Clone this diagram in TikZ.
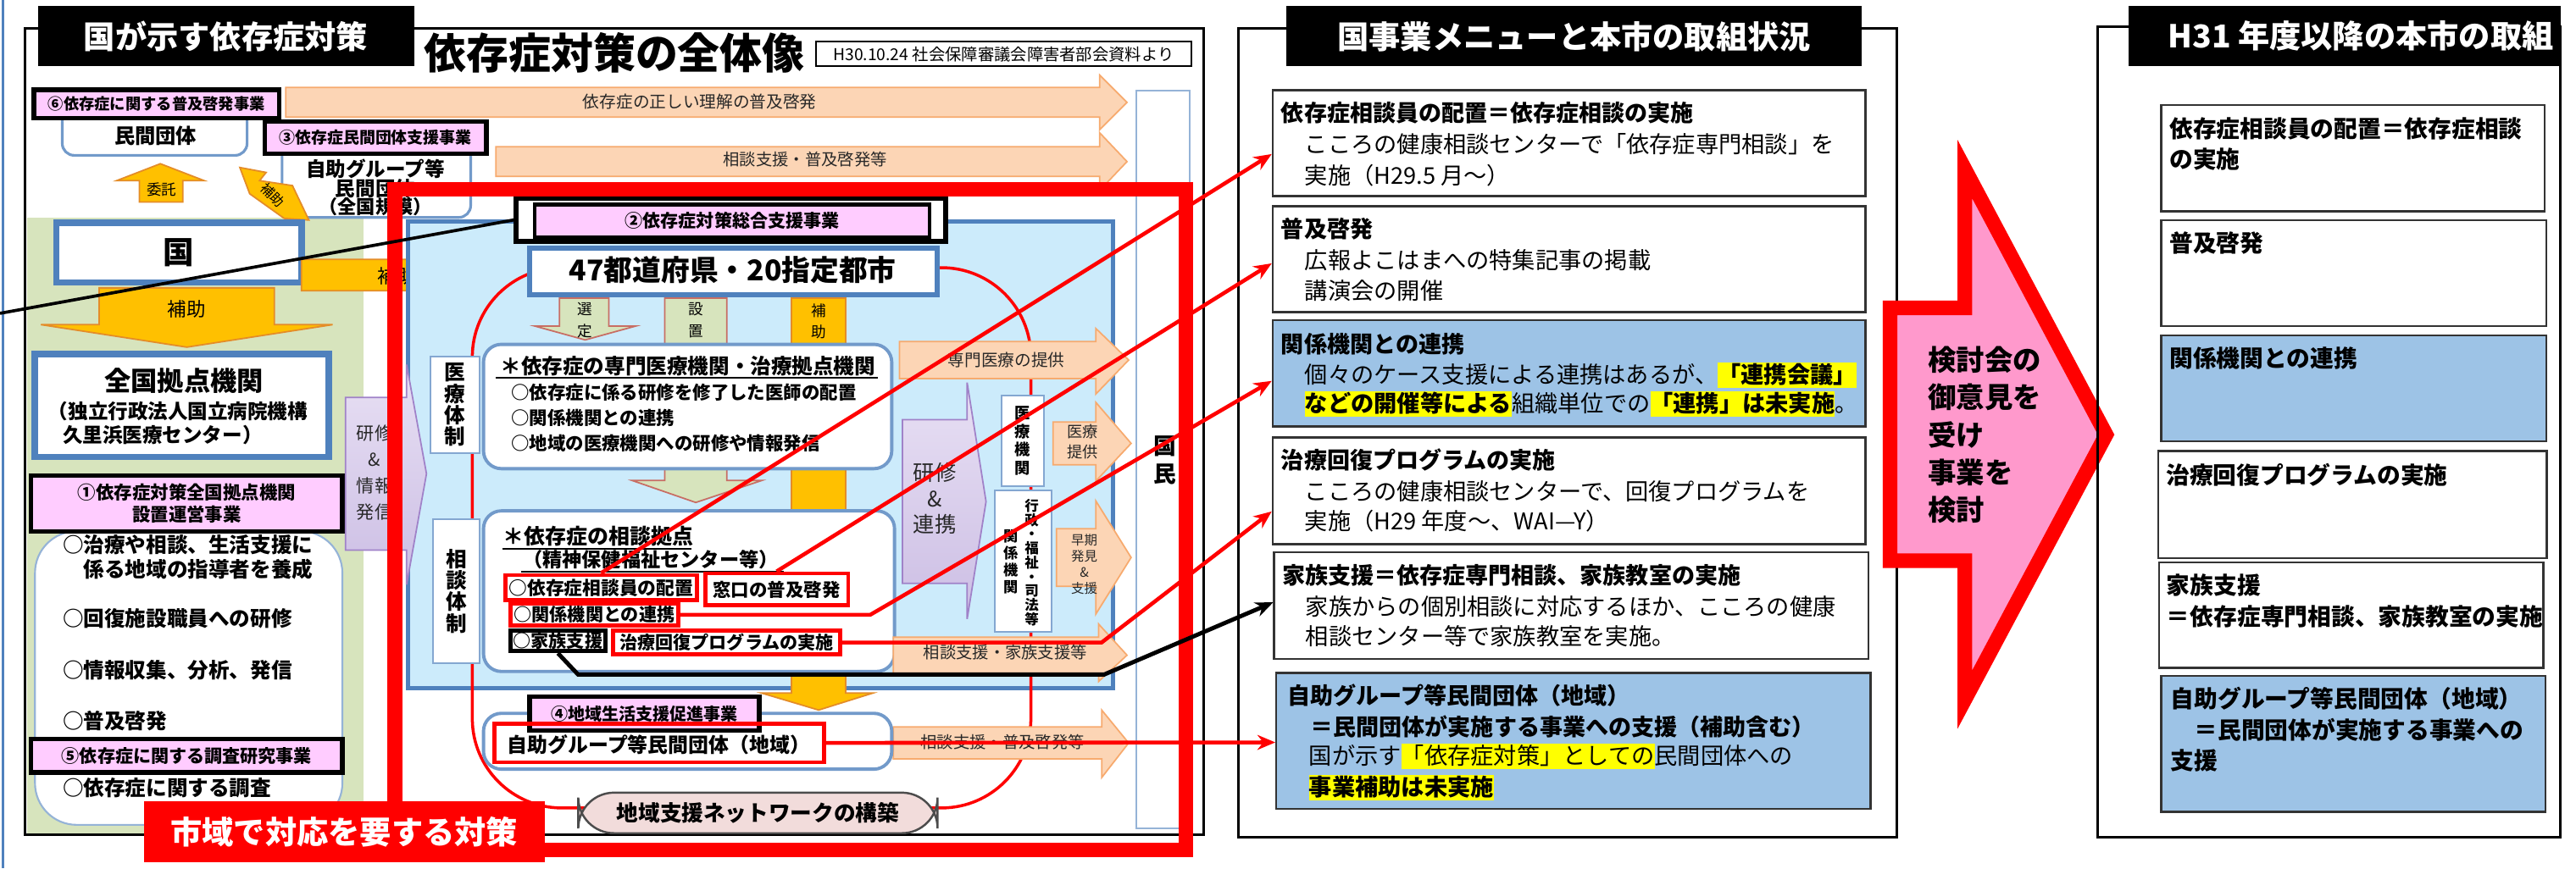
\documentclass[tikz,border=0pt]{standalone}
\usepackage{fontspec}
\setmainfont{Noto Sans CJK JP}
\usetikzlibrary{fit,calc,arrows.meta}
\definecolor{pinkc}{RGB}{255,204,255}
\definecolor{bluebd}{RGB}{79,129,189}
\definecolor{ltblue}{RGB}{204,235,251}
\definecolor{grn}{RGB}{215,228,189}
\definecolor{yel}{RGB}{255,192,0}
\definecolor{yelbd}{RGB}{228,140,40}
\definecolor{orfill}{RGB}{252,213,181}
\definecolor{orbd}{RGB}{247,170,110}
\definecolor{purtop}{RGB}{232,224,244}
\definecolor{purbot}{RGB}{204,190,228}
\definecolor{purbd}{RGB}{160,130,200}
\definecolor{boxblue}{RGB}{157,195,230}
\definecolor{pinkar}{RGB}{255,153,204}
\definecolor{netf}{RGB}{242,220,219}
\definecolor{hlyel}{RGB}{255,255,0}
\definecolor{setbd}{RGB}{200,110,100}
\definecolor{gtxt}{RGB}{40,40,40}
\newcommand\fz[1]{\pgfmathsetmacro\fzb{#1*1.2}\fontsize{#1pt}{\fzb pt}\selectfont}
\newcommand\fzz[2]{\fontsize{#1pt}{#2pt}\selectfont}
\newcommand\hl[1]{{\setlength{\fboxsep}{0pt}\colorbox{hlyel}{\rule[-0.2em]{0pt}{1.1em}#1}}}
\newcommand\boxn[4]{\node[#1, fit={(#2) (#3)}, inner sep=0pt] (#4) {};}
\newcommand\barr[8]{\path[#1] (#2,#5) -- (#3,#5) -- (#3,#7) -- (#4,{(#5+#6)/2}) -- (#3,#8) -- (#3,#6) -- (#2,#6) -- cycle;}
\begin{document}
\begin{tikzpicture}[x=0.0193878cm, y=-0.0193878cm,
  pinkb/.style={draw=black, line width=1.5pt, fill=pinkc},
  rbox/.style={draw=bluebd!80, line width=0.9pt, fill=white, rounded corners=4pt},
  thb/.style={draw=bluebd, line width=2.2pt, fill=white},
  redb/.style={draw=red, line width=1.4pt},
  mbox/.style={draw=black!80, line width=0.7pt, fill=white},
  mboxb/.style={draw=black!80, line width=0.7pt, fill=boxblue},
  tw/.style={inner sep=0pt, anchor=west, text=black},
  tc/.style={inner sep=0pt, align=center, text=black},
  orar/.style={fill=orfill, draw=orbd, line width=0.5pt},
  purar/.style={top color=purtop, bottom color=purbot, draw=purbd, line width=0.5pt},
  yelar/.style={fill=yel, draw=yelbd, line width=0.5pt},
  grnar/.style={fill=grn, draw=setbd, line width=0.5pt},
  redln/.style={draw=red, line width=1.3pt},
  arrtip/.style={-{Stealth[length=6pt,width=5pt]}},
]
\useasboundingbox (0,0) rectangle (1568,528.7);
\fill[white] (0,0) rectangle (1568,528.7);

% ===== LEFT PANEL =====
\draw[bluebd, line width=0.8pt] (1.9,0) -- (1.9,528.7);
\fill[grn] (16.6,132.4) rectangle (221.4,508.4);
\draw[black, line width=0.8pt] (15.4,17.2) rectangle (732.8,508.4);
\node[tc, font=\bfseries\fz{14.2}] (title) at (374,32) {依存症対策の全体像};
\boxn{draw=black, line width=0.6pt, fill=white}{496.6,25.4}{725.2,40.4}{ref}
\node[tc, font=\fz{5.5}] at (ref) {H30.10.24 社会保障審議会障害者部会資料より};
\boxn{fill=black}{23,3.8}{252,40.4}{hL}
\node[tc, text=white, font=\bfseries\fz{10.6}] at (hL) {国が示す依存症対策};

% top orange arrows
\barr{orar}{174}{669.3}{686}{53.3}{71.3}{45.6}{79.1}
\node[tc, text=gtxt, font=\fz{5.6}] at (425.9,61.9) {依存症の正しい理解の普及啓発};
\barr{orar}{301.9}{669.3}{686}{89.4}{107.4}{80.8}{116}
\node[tc, text=gtxt, font=\fz{5.5}] at (490.1,97.1) {相談支援・普及啓発等};

% private groups
\boxn{rbox}{37.9,64}{150.4,94.6}{mk}
\node[tc, font=\bfseries\fz{6.9}] at (94.7,82.5) {民間団体};
\boxn{pinkb}{20.6,54.7}{170,71.9}{b6}
\node[tc, font=\bfseries\fz{5.2}] at (b6) {⑥依存症に関する普及啓発事業};
\boxn{rbox}{171.7,85}{286.5,132.4}{jz}
\node[tc, font=\bfseries\fz{6.7}] at (228.5,102.8) {自助グループ等};
\node[tc, font=\bfseries\fz{6.7}] at (228.5,114.6) {民間団体};
\node[tc, font=\bfseries\fz{6.3}] at (228.5,126) {（全国規模）};
\boxn{pinkb}{161,74}{296,93.7}{b3}
\node[tc, font=\bfseries\fz{5.4}] at (b3) {③依存症民間団体支援事業};

% itaku arrow
\path[yelar] (84.8,123) -- (84.8,110) -- (71,110) -- (97.6,99.7) -- (124.3,110) -- (111.3,110) -- (111.3,123) -- cycle;
\node[tc, font=\fz{5}] at (98.3,115.5) {委託};
% diagonal hojo arrow
\path[yelar] (146,102) -- (162,105) -- (158,110) -- (178,113) -- (188,134) -- (173,133) -- (152,118) -- cycle;
\node[tc, font=\fz{4.5}, rotate=-45] at (166,119) {補助};

% kuni
\boxn{thb}{34.3,135.8}{183.5,172}{kuni}
\node[tc, font=\bfseries\fz{10.4}] at (kuni) {国};
\path[yelar] (60.4,175.3) -- (167,175.3) -- (167,197.7) -- (202.5,197.7) -- (113.7,211.4) -- (24.9,197.7) -- (60.4,197.7) -- cycle;
\node[tc, font=\fz{6.4}] at (113.7,188) {補助};
\barr{yelar}{183.5}{290}{309}{158}{177}{148.7}{186.5}
\node[tc, font=\fz{6.4}] at (241.5,168) {補助};

% national center
\boxn{thb}{21.3,215.5}{200,278.2}{zk}
\node[tc, font=\bfseries\fz{8.9}] at (112,232) {全国拠点機関};
\node[tw, font=\bfseries\fz{6.7}] at (29,250.5) {（独立行政法人国立病院機構};
\node[tw, font=\bfseries\fz{6.7}] at (37.9,264.9) {久里浜医療センター）};
\boxn{draw=bluebd!60, line width=0.6pt, fill=white, rounded corners=14pt}{21.3,323.5}{208.4,502.3}{lst}
\boxn{pinkb}{19,289.5}{208.4,323.5}{b1}
\node[tc, font=\bfseries\fzz{6.1}{7.4}] at (113.7,306.5) {①依存症対策全国拠点機関\\設置運営事業};
\node[tw, font=\bfseries\fz{7}] at (37.9,331.7) {○治療や相談、生活支援に};
\node[tw, font=\bfseries\fz{7}] at (37.9,346.8) {　係る地域の指導者を養成};
\node[tw, font=\bfseries\fz{7}] at (37.9,376.4) {○回復施設職員への研修};
\node[tw, font=\bfseries\fz{7}] at (37.9,408.2) {○情報収集、分析、発信};
\node[tw, font=\bfseries\fz{7}] at (37.9,439) {○普及啓発};
\boxn{pinkb}{19,449.9}{208.4,470.4}{b5}
\node[tc, font=\bfseries\fz{6}] at (b5) {⑤依存症に関する調査研究事業};
\node[tw, font=\bfseries\fz{7}] at (37.9,479.7) {○依存症に関する調査};

% ===== CENTRAL DIAGRAM =====
\boxn{draw=bluebd, line width=1.4pt, fill=ltblue}{248.3,135}{677.5,419.1}{blue}
\barr{purar}{210.3}{247.5}{259.6}{242}{335}{222}{356}
\node[tc, text=gtxt, font=\fzz{6}{8.8}] at (228,288) {研修\\\&\\情報\\発信};
\boxn{draw=bluebd!60, line width=0.6pt, fill=white}{691.6,55}{724,504.3}{kokumin}
\node[tc, font=\bfseries\fzz{7.6}{9.4}] at (709,280.2) {国\\民};
\draw[red, line width=1pt, rounded corners=30pt] (287.5,163) rectangle (627.5,492);

% vertical arrows from prefectures
\path[yelar] (481.8,181.5) -- (514.7,181.5) -- (514.7,422.1) -- (531.2,422.1) -- (498.3,432.4) -- (463.7,422.1) -- (481.8,422.1) -- cycle;
\node[tc, font=\fzz{5}{7.2}] at (498.3,195.5) {補\\助};
\path[grnar] (340.6,181.5) -- (370.6,181.5) -- (370.6,198.6) -- (386.8,198.6) -- (356.2,207) -- (325.7,198.6) -- (340.6,198.6) -- cycle;
\node[tc, font=\fzz{5}{7.2}] at (356,195) {選\\定};
\path[grnar] (404.6,181.5) -- (442.4,181.5) -- (442.4,292.6) -- (463.7,292.6) -- (423.5,306) -- (384.8,292.6) -- (404.6,292.6) -- cycle;
\node[tc, font=\fzz{5}{7.2}] at (423.5,195) {設\\置};

\boxn{draw=black, line width=1.6pt, fill=white}{314.1,120.9}{575.6,147}{n2o}
\boxn{pinkb, line width=1.2pt}{325.6,124.6}{565.8,144.4}{n2}
\node[tc, font=\bfseries\fz{6}] at (n2) {②依存症対策総合支援事業};
\boxn{thb, line width=1.7pt}{322.3,151.3}{570.6,179.6}{pref}
\node[tc, font=\bfseries\fz{9.6}] at (446,164.5) {47都道府県・20指定都市};

% medical system
\boxn{rbox, line width=1.1pt, rounded corners=6pt}{294.3,209.7}{542.8,285.4}{senmon}
\node[tw, font=\bfseries\fz{7}] at (304.2,222.7) {＊依存症の専門医療機関・治療拠点機関};
\draw[line width=0.6pt] (301.7,230) -- (534.5,230);
\node[tw, font=\bfseries\fz{6.1}] at (310.8,239.2) {○依存症に係る研修を修了した医師の配置};
\node[tw, font=\bfseries\fz{6.1}] at (310.8,254.7) {○関係機関との連携};
\node[tw, font=\bfseries\fz{6.1}] at (310.8,270.1) {○地域の医療機関への研修や情報発信};
\boxn{draw=bluebd!70, line width=0.6pt, fill=white}{262,217}{292,276}{iryo}
\node[tc, font=\bfseries\fzz{7}{7.2}] at (iryo) {医\\療\\体\\制};

% consultation
\boxn{rbox, line width=1.1pt, rounded corners=6pt}{294.3,311.1}{544.5,408.9}{sodan}
\node[tw, font=\bfseries\fz{7.1}] at (305.9,326.6) {＊依存症の相談拠点};
\draw[line width=0.6pt] (305.9,334) -- (421,334);
\node[tw, font=\bfseries\fz{6.6}] at (318,341) {（精神保健福祉センター等）};
\draw[line width=0.6pt] (317.4,348.1) -- (477,348.1);
\boxn{redb}{307.5,350.2}{424.3,365.6}{r1}
\node[tc, font=\bfseries\fz{6.2}] at (r1) {○依存症相談員の配置};
\boxn{redb}{429.2,349.2}{516.3,368.7}{r2}
\node[tc, font=\bfseries\fz{6.1}] at (r2) {窓口の普及啓発};
\boxn{redb}{310.8,367.7}{412.8,381.1}{r3}
\node[tc, font=\bfseries\fz{6}] at (r3) {○関係機関との連携};
\boxn{draw=black, line width=1.4pt}{310.8,384.1}{368.4,396.5}{kz}
\node[tc, font=\bfseries\fz{6}] at (kz) {○家族支援};
\boxn{redb}{373.3,384.1}{511.4,398.5}{r4}
\node[tc, font=\bfseries\fz{6}] at (r4) {治療回復プログラムの実施};
\boxn{draw=bluebd!70, line width=0.6pt, fill=white}{263.5,316}{292,404}{sodantai}
\node[tc, font=\bfseries\fzz{7}{7.2}] at (sodantai) {相\\談\\体\\制};

% right-hand arrows inside blue region
\barr{orar}{547.5}{667}{687}{208}{230.5}{200}{240}
\node[tc, text=gtxt, font=\fz{5.6}] at (612.6,219) {専門医療の提供};
\barr{orar}{641}{667}{688.5}{257}{283}{245}{293}
\node[tc, text=gtxt, font=\fzz{5.2}{6.6}] at (659,269) {医療\\提供};
\barr{orar}{643}{667}{688.5}{322}{357}{305}{374}
\node[tc, text=gtxt, font=\fzz{4.4}{5.35}] at (660,343.7) {早期\\発見\\\&\\支援};
\barr{orar}{543.8}{668.7}{686}{388}{410}{380}{415}
\node[tc, text=gtxt, font=\fz{5.5}] at (611.9,397.4) {相談支援・家族支援等};
\barr{orar}{543.8}{670.6}{687}{442.7}{462.2}{432.4}{473.5}
\node[tc, text=gtxt, font=\fz{5.5}] at (610.3,451.9) {相談支援・普及啓発等};
\barr{purar}{549.3}{588.7}{600.2}{255.6}{355.3}{233}{376.9}
\node[tc, text=gtxt, font=\fzz{7.2}{8.8}] at (569,303.5) {研修\\\&\\連携};
\boxn{draw=bluebd!70, line width=0.6pt, fill=white}{609.6,241}{635.4,296}{iryokikan}
\node[tc, font=\bfseries\fzz{5.2}{6.1}] at (iryokikan) {医\\療\\機\\関};
\boxn{draw=bluebd!70, line width=0.6pt, fill=white}{605.5,298.6}{640,385}{gyosei}
\node[tc, font=\bfseries\fzz{4.7}{4.75}] at (628,342.5) {行\\政\\・\\福\\祉\\・\\司\\法\\等};
\node[tc, font=\bfseries\fzz{4.9}{5.7}] at (615.4,342) {関\\係\\機\\関};

% local groups
\boxn{rbox, line width=1.1pt, rounded corners=6pt}{294.3,434.4}{542.8,468.4}{jc}
\boxn{pinkb}{322.3,424.2}{462.1,444.7}{b4}
\node[tc, font=\bfseries\fz{5.7}] at (392.2,434.5) {④地域生活支援促進事業};
\boxn{redb}{300.9,440.6}{501.5,464.2}{r6}
\node[tc, font=\bfseries\fz{6.8}] at (401,453.5) {自助グループ等民間団体（地域）};
\boxn{draw=black!70, line width=0.7pt, fill=netf, rounded corners=12pt}{352,482.7}{570.7,507.4}{net}
\node[tc, font=\bfseries\fz{7.3}] at (net) {地域支援ネットワークの構築};

% red frame and label
\draw[red, line width=4.9pt] (240.4,115.2) rectangle (721.7,517.7);
\boxn{fill=red}{87.6,487.9}{331.5,524.9}{lab}
\node[tc, text=white, font=\bfseries\fz{10.6}] at (lab) {市域で対応を要する対策};

% ===== MIDDLE PANEL =====
\draw[line width=0.8pt] (753.7,17.2) rectangle (1154.5,510);
\boxn{fill=black}{782.9,3.8}{1133.4,40.4}{hM}
\node[tc, text=white, font=\bfseries\fz{10.6}] at (hM) {国事業メニューと本市の取組状況};

\boxn{mbox}{774.7,55}{1135.5,119.5}{m1}
\node[tw, font=\bfseries\fz{7.7}] at (779.5,68.8) {依存症相談員の配置＝依存症相談の実施};
\node[tw, font=\fz{7.75}] at (793.9,87.7) {こころの健康相談センターで「依存症専門相談」を};
\node[tw, font=\fz{7.75}] at (793.9,106.6) {実施（H29.5 月～）};

\boxn{mbox}{774.7,125.5}{1135.5,190}{m2}
\node[tw, font=\bfseries\fz{7.7}] at (779.5,139.2) {普及啓発};
\node[tw, font=\fz{7.75}] at (793.9,158.2) {広報よこはまへの特集記事の掲載};
\node[tw, font=\fz{7.75}] at (793.9,177) {講演会の開催};

\boxn{mboxb}{774.7,195.1}{1135.5,259.6}{m3}
\node[tw, font=\bfseries\fz{7.7}] at (779.5,209.7) {関係機関との連携};
\node[tw, font=\fz{7.75}] at (793.9,228.6) {個々のケース支援による連携はあるが、\hl{\bfseries「連携会議」}};
\node[tw, font=\fz{7.75}] at (793.9,245.8) {\hl{\bfseries などの開催等による}組織単位での\hl{\bfseries「連携」は未実施}。};

\boxn{mbox}{774.7,266.5}{1135.5,331.3}{m4}
\node[tw, font=\bfseries\fz{7.7}] at (779.5,280.3) {治療回復プログラムの実施};
\node[tw, font=\fz{7.75}] at (793.9,299.3) {こころの健康相談センターで、回復プログラムを};
\node[tw, font=\fz{7.75}] at (793.9,317.4) {実施（H29 年度～、WAI—Y）};

\boxn{mbox}{775.6,336.4}{1137.4,401.2}{m5}
\node[tw, font=\bfseries\fz{7.7}] at (780.1,350.2) {家族支援＝依存症専門相談、家族教室の実施};
\node[tw, font=\fz{7.75}] at (794.4,369.2) {家族からの個別相談に対応するほか、こころの健康};
\node[tw, font=\fz{7.75}] at (794.4,387.4) {相談センター等で家族教室を実施。};

\boxn{mboxb}{776.9,409.8}{1138.7,492.7}{m6}
\node[tw, font=\bfseries\fz{7.7}] at (783.4,423.6) {自助グループ等民間団体（地域）};
\node[tw, font=\bfseries\fz{7.7}] at (783.4,442.6) {　＝民間団体が実施する事業への支援（補助含む）};
\node[tw, font=\fz{7.75}] at (796.5,460.8) {国が示す\hl{「依存症対策」としての}民間団体への};
\node[tw, font=\fz{7.75}] at (796.5,479.7) {\hl{\bfseries 事業補助は未実施}};

% ===== BIG PINK ARROW =====
\path[fill=pinkar, draw=red, line width=4.9pt, line join=miter] (1150.5,187.5) -- (1196,187.5) -- (1196,103) -- (1282,264.7) -- (1196,426) -- (1196,341.5) -- (1150.5,341.5) -- cycle;
\node[tw, align=left, font=\bfseries\fzz{9.5}{12.6}] (kento) at (1173.3,264.9) {検討会の\\御意見を\\受け\\事業を\\検討};

% ===== RIGHT PANEL =====
\draw[line width=0.8pt] (1276.9,16.3) rectangle (1558.6,510);
\boxn{fill=black}{1295.4,3.8}{1558.6,40.4}{hR}
\node[tw, text=white, font=\bfseries\fz{10.6}] at (1319.3,22) {H31 年度以降の本市の取組};
\boxn{mbox}{1315.5,64}{1549,128.6}{q1}
\node[tw, font=\bfseries\fz{7.9}] at (1320.2,78.2) {依存症相談員の配置＝依存症相談};
\node[tw, font=\bfseries\fz{7.9}] at (1320.2,97.1) {の実施};
\boxn{mbox}{1315.5,134.1}{1549.8,198.6}{q2}
\node[tw, font=\bfseries\fz{7.9}] at (1320.2,147.8) {普及啓発};
\boxn{mboxb}{1315.5,204.2}{1549.8,268.6}{q3}
\node[tw, font=\bfseries\fz{7.9}] at (1320.2,218.3) {関係機関との連携};
\boxn{mbox}{1313.6,274.6}{1550.2,339.9}{q4}
\node[tw, font=\bfseries\fz{7.9}] at (1318.2,289) {治療回復プログラムの実施};
\boxn{mbox}{1314.2,342.4}{1548.1,406.7}{q5}
\node[tw, font=\bfseries\fz{7.9}] at (1318.5,356.3) {家族支援};
\node[tw, font=\bfseries\fz{7.9}] at (1318.5,375.3) {＝依存症専門相談、家族教室の実施};
\boxn{mboxb}{1315.5,411.5}{1549.5,494.4}{q6}
\node[tw, font=\bfseries\fz{7.9}] at (1321,425.3) {自助グループ等民間団体（地域）};
\node[tw, font=\bfseries\fz{7.9}] at (1321,444.3) {　＝民間団体が実施する事業への};
\node[tw, font=\bfseries\fz{7.9}] at (1321,463.3) {支援};

% ===== CONNECTORS =====
\coordinate (edgeL) at (0,190.8);
\draw[black, line width=1.05pt] (n2o.west) -- (edgeL);
\draw[redln, arrtip] (r1.north) -- ($(m1.north west)!0.6!(m1.south west)$);
\draw[redln, arrtip] (r2.north) -- ($(m2.north west)!0.54!(m2.south west)$);
\draw[redln, arrtip] (r3.east) -- (529.7,374.4) -- ($(m3.north west)!0.57!(m3.south west)$);
\draw[redln, arrtip] (r4.east) -- (670.5,391.3) -- ($(m4.north west)!0.69!(m4.south west)$);
\draw[black, line width=1.4pt, arrtip] (kz.south) -- (351.9,410.8) -- (672,410.8) -- ($(m5.north west)!0.47!(m5.south west)$);
\draw[redln, arrtip] (r6.east) -- ($(m6.north west)!0.51!(m6.south west)$);
\end{tikzpicture}
\end{document}
